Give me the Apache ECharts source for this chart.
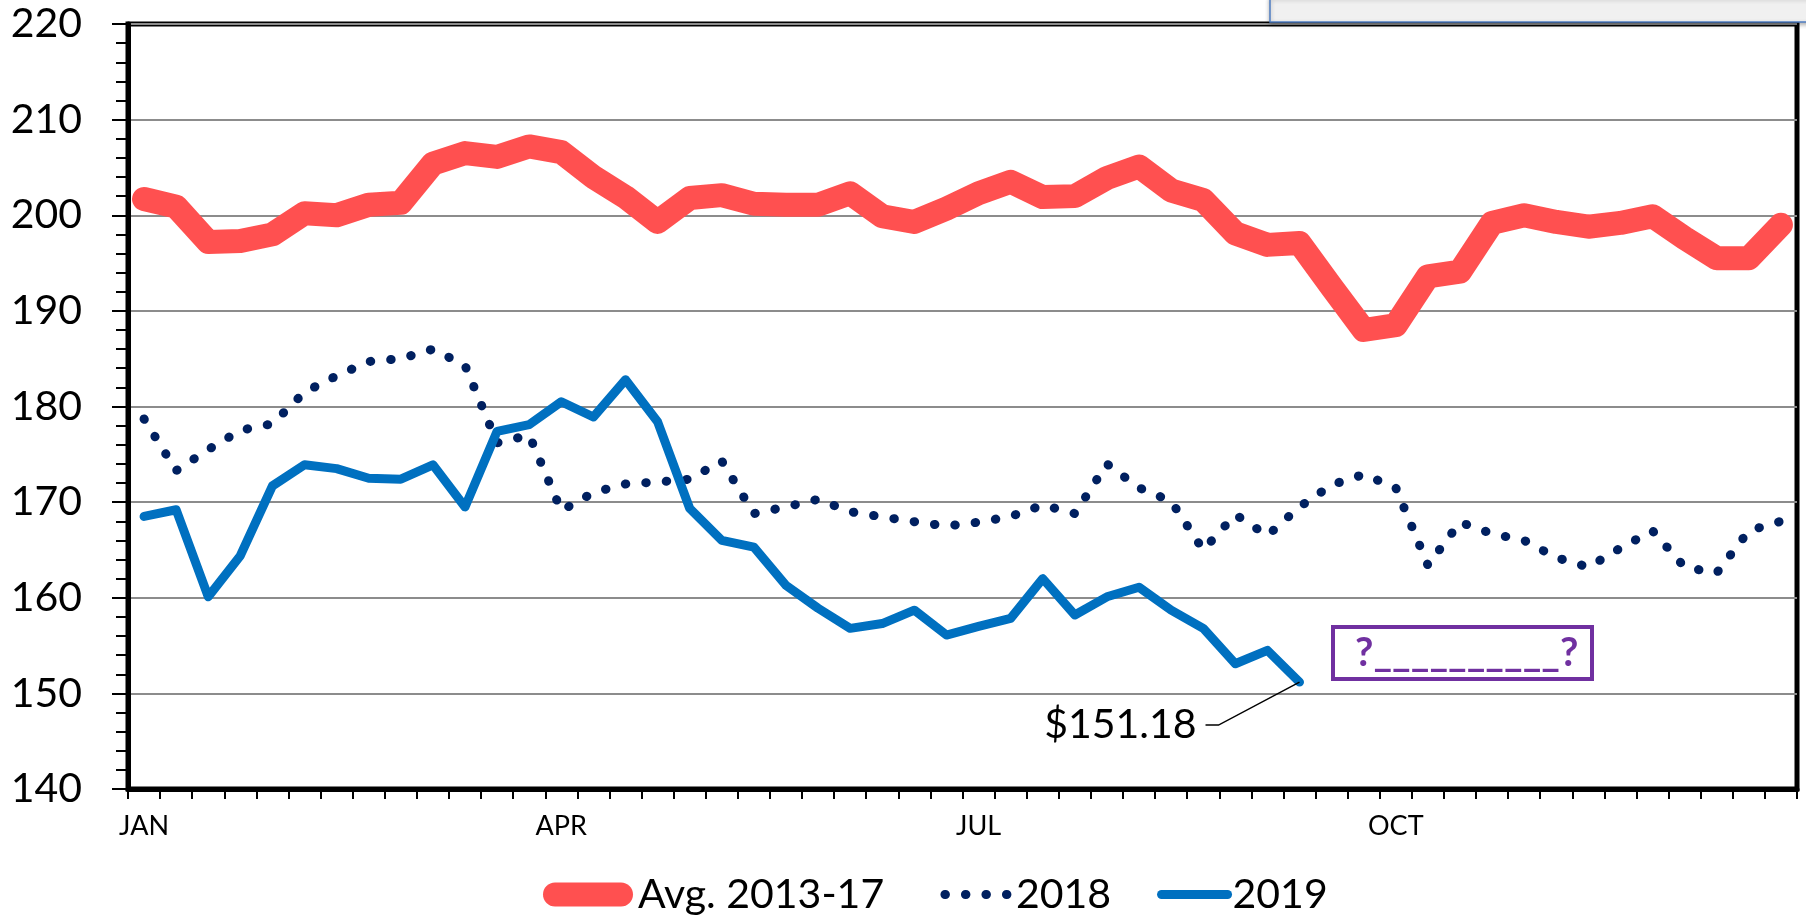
<!DOCTYPE html>
<html>
<head>
<meta charset="utf-8">
<title>Weekly price</title>
<script src="https://cdn.jsdelivr.net/npm/echarts@6/dist/echarts.min.js"></script>
<style>
  html, body { margin: 0; padding: 0; background: #fff; }
  #main { width: 1806px; height: 919px; }
</style>
</head>
<body>
<div id="main"></div>
<script>
// 52 weeks, month names sit on weeks 0, 13, 26, 39
var monthNames = ['JAN', 'APR', 'JUL', 'OCT'];
var monthWeeks = [0, 13, 26, 39];

var avg1317 = [201.7, 200.9, 197.2, 197.3, 198.0, 200.2, 200.0, 201.1, 201.3, 205.4,
  206.5, 206.1, 207.2, 206.6, 204.0, 201.9, 199.3, 201.8, 202.1, 201.2,
  201.1, 201.1, 202.3, 199.9, 199.3, 200.7, 202.3, 203.5, 201.9, 202.0,
  203.9, 205.1, 202.6, 201.6, 198.1, 196.9, 197.1, 192.5, 188.0, 188.5,
  193.6, 194.1, 199.2, 200.0, 199.3, 198.8, 199.2, 199.9, 197.6, 195.5,
  195.5, 199.0];

var y2018 = [178.7, 173.3, 175.5, 177.5, 178.2, 181.5, 183.2, 184.7, 185.0, 186.0,
  184.3, 176.2, 177.0, 169.1, 171.0, 171.9, 172.1, 172.4, 174.3, 168.8,
  169.5, 170.3, 169.0, 168.45, 167.95, 167.5, 167.9, 168.5, 169.7, 168.8,
  174.0, 171.5, 170.1, 165.0, 168.7, 166.5, 169.5, 171.8, 172.9, 171.5,
  163.4, 167.9, 166.7, 166.0, 164.2, 163.2, 165.2, 167.0, 163.2, 162.6,
  167.0, 168.0];

var y2019 = [168.5, 169.2, 160.1, 164.4, 171.7, 173.9, 173.5, 172.5, 172.4, 173.9,
  169.5, 177.4, 178.1, 180.5, 178.9, 182.8, 178.4, 169.35, 166.0, 165.3,
  161.3, 158.9, 156.8, 157.3, 158.7, 156.1, 157.0, 157.85, 162.0, 158.2,
  160.1, 161.1, 158.7, 156.8, 153.1, 154.5, 151.18];

var seriesNames = ['Avg. 2013-17', '2018', '2019'];
var lastLabel = '$151.18';
var boxText = '?__________?';

var weeks = [];
for (var i = 0; i < avg1317.length; i++) {
  weeks.push(String(i + 1));
}

var font = 'Lato, "Noto Sans", sans-serif';
var chart = echarts.init(document.getElementById('main'));

var option = {
  animation: false,
  backgroundColor: '#fff',
  textStyle: { fontFamily: font },
  grid: {
    left: 128, right: 9, top: 24, bottom: 130,
    show: true, borderColor: '#000', borderWidth: 5,
    containLabel: false, outerBoundsMode: 'none'
  },
  legend: {
    left: 538, top: 869,
    itemWidth: 66, itemHeight: 24, itemGap: 46,
    lineStyle: { width: 'inherit' },
    itemStyle: { opacity: 0 },
    formatter: function (name) {
      // thin spaces keep the Excel spacing after the first entry
      return name === seriesNames[0] ? '{avg|' + name + '\u2009\u2009}' : name;
    },
    textStyle: {
      color: '#000', fontSize: 41, fontFamily: font,
      rich: {
        avg: { color: '#000', fontSize: 41, fontFamily: font, padding: [0, 0, 0, 12] }
      }
    },
    data: seriesNames
  },
  xAxis: {
    type: 'category',
    data: weeks,
    boundaryGap: true,
    axisLine: { show: true, lineStyle: { color: '#000', width: 5 } },
    axisTick: { show: true, interval: 0, length: 10, lineStyle: { color: '#000', width: 2 } },
    axisLabel: {
      interval: 0, color: '#000', fontSize: 27, margin: 24,
      formatter: function (v, idx) {
        var k = monthWeeks.indexOf(idx);
        return k >= 0 ? monthNames[k] : '';
      }
    },
    splitLine: { show: false }
  },
  yAxis: {
    type: 'value', min: 140, max: 220, interval: 10,
    axisLine: { show: true, lineStyle: { color: '#000', width: 5 } },
    axisTick: { show: true, length: 16, lineStyle: { color: '#000', width: 2 } },
    minorTick: { show: true, splitNumber: 5, length: 12, lineStyle: { color: '#000', width: 2 } },
    axisLabel: { color: '#000', fontSize: 41, margin: 46 },
    splitLine: { show: true, lineStyle: { color: '#8c8c8c', width: 2 } }
  },
  series: [
    {
      name: seriesNames[0], type: 'line', data: avg1317,
      symbol: 'none', color: '#FF5050',
      lineStyle: { color: '#FF5050', width: 24, cap: 'round', join: 'round' }
    },
    {
      name: seriesNames[1], type: 'line', data: y2018,
      symbol: 'none', color: '#002060',
      lineStyle: { color: '#002060', width: 9, type: [0.5, 20], cap: 'round', join: 'round' }
    },
    {
      name: seriesNames[2], type: 'line', data: y2019,
      symbol: 'none', color: '#0070C0',
      lineStyle: { color: '#0070C0', width: 9, cap: 'round', join: 'round' }
    }
  ]
};
chart.setOption(option);

// callout for the last 2019 value, anchored on the point
var last = y2019.length - 1;
var p = chart.convertToPixel({ gridIndex: 0 }, [last, y2019[last]]);

chart.setOption({
  graphic: [
    {
      type: 'rect', z: 100,
      shape: { x: 1270, y: -3, width: 545, height: 25 },
      style: { fill: '#f0f0f0', stroke: '#4f7ec2', lineWidth: 1.5,
        shadowBlur: 4, shadowOffsetY: 2, shadowColor: 'rgba(0,0,0,0.3)' }
    },
    {
      type: 'polyline', z: 100,
      shape: { points: [[p[0] - 94, p[1] + 43], [p[0] - 81, p[1] + 43], [p[0], p[1]]] },
      style: { stroke: '#000', lineWidth: 1.5, fill: null }
    },
    {
      type: 'text', z: 100, x: p[0] - 103, y: p[1] + 43,
      style: { text: lastLabel, fill: '#000', fontSize: 41, fontFamily: font,
        align: 'right', verticalAlign: 'middle' }
    },
    {
      type: 'rect', z: 100,
      shape: { x: 1333, y: 627, width: 259, height: 52 },
      style: { fill: '#fff', stroke: '#7030A0', lineWidth: 4 }
    },
    {
      type: 'text', z: 101, x: 1355, y: 653,
      style: { text: boxText, fill: '#7030A0', fontSize: 40, fontWeight: 'bold',
        fontFamily: font, align: 'left', verticalAlign: 'middle' }
    }
  ]
});
</script>
</body>
</html>
